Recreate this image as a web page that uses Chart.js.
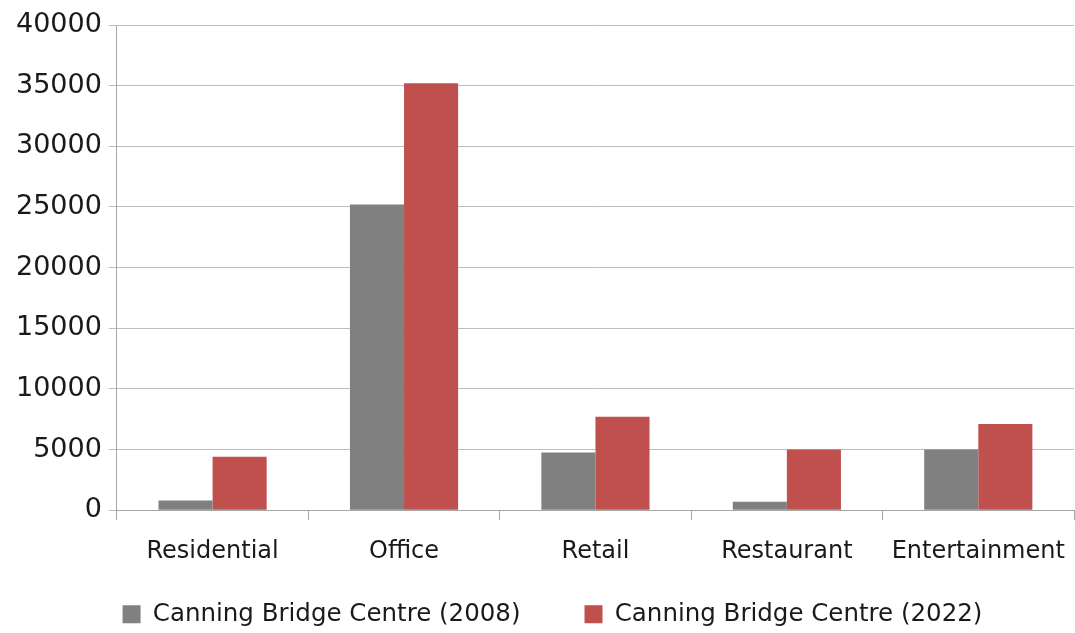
<!DOCTYPE html>
<html>
<head>
<meta charset="utf-8">
<script src="https://cdn.jsdelivr.net/npm/chart.js@4/dist/chart.umd.min.js"></script>
<style>
    html, body { margin: 0; padding: 0; background: #ffffff; }
    #wrap { width: 1075px; height: 633px; position: relative; }
</style>
</head>
<body>
<div id="wrap"><canvas id="landUseChart"></canvas></div>
<script>
const categories = ['Residential', 'Office', 'Retail', 'Restaurant', 'Entertainment'];
const values2008 = [800, 25200, 4750, 700, 5000];
const values2022 = [4400, 35200, 7700, 5000, 7100];
const seriesNames = ['Canning Bridge Centre (2008)', 'Canning Bridge Centre (2022)'];
const yTicks = [0, 5000, 10000, 15000, 20000, 25000, 30000, 35000, 40000];

// the wide item spacing makes the legend box tall, so pull it up under the
// axis labels and nudge it right a bit
const legendShift = {
    id: 'legendShift',
    afterLayout: function (chart) {
        const lg = chart.legend;
        lg.left += 11;
        lg.right += 11;
        lg.top -= 45;
        lg.bottom -= 45;
    }
};

function renderChart() {
    const ctx = document.getElementById('landUseChart');

    Chart.defaults.font.family = '"DejaVu Sans", "Noto Sans", sans-serif';
    Chart.defaults.color = '#1a1a1a';

    new Chart(ctx, {
        type: 'bar',
        data: {
            labels: categories,
            datasets: [{
                label: seriesNames[0],
                data: values2008,
                backgroundColor: '#808080',
                categoryPercentage: 0.565,
                barPercentage: 1.0,
            }, {
                label: seriesNames[1],
                data: values2022,
                backgroundColor: '#c0504d',
                categoryPercentage: 0.565,
                barPercentage: 1.0,
            }]
        },
        plugins: [legendShift],
        options: {
            responsive: true,
            maintainAspectRatio: false,
            animation: false,
            layout: {
                padding: { top: 25, right: 1, left: 9, bottom: -48.5 }
            },
            scales: {
                x: {
                    // the last label fits inside its category, no side room needed
                    afterFit: function (scale) {
                        scale.paddingLeft = 0;
                        scale.paddingRight = 0;
                    },
                    grid: {
                        drawOnChartArea: false,
                        drawTicks: true,
                        tickLength: 10,
                        color: '#a6a6a6',
                    },
                    border: { color: '#a6a6a6' },
                    ticks: {
                        font: { size: 24 },
                        padding: 17,
                        maxRotation: 0,
                        minRotation: 0,
                        autoSkip: false,
                    }
                },
                y: {
                    min: 0,
                    max: 40000,
                    afterBuildTicks: function (axis) {
                        axis.ticks = yTicks.map(function (v) { return { value: v }; });
                    },
                    grid: {
                        color: '#bdbdbd',
                        tickLength: 8,
                    },
                    border: { color: '#a6a6a6' },
                    ticks: {
                        font: { size: 27 },
                        padding: 7,
                        callback: function (value) { return String(value); },
                    }
                }
            },
            plugins: {
                legend: {
                    position: 'bottom',
                    labels: {
                        font: { size: 24.5 },
                        boxWidth: 18,
                        boxHeight: 18,
                        padding: 64,
                    }
                },
                tooltip: { enabled: false }
            }
        }
    });
}

renderChart();
</script>
</body>
</html>
